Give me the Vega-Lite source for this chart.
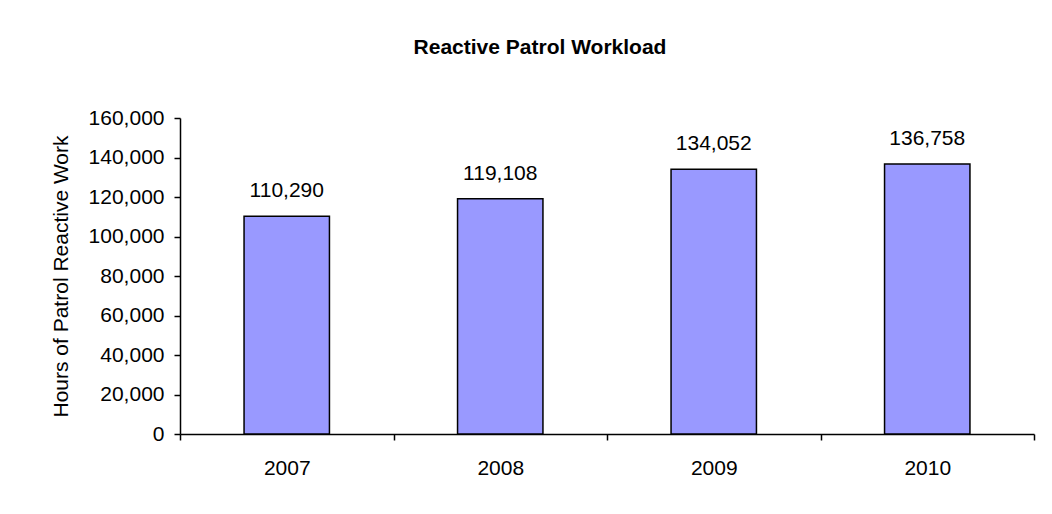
{
  "$schema": "https://vega.github.io/schema/vega-lite/v6.json",
  "width": 854,
  "height": 316,
  "autosize": "none",
  "padding": {"left": 180, "top": 118, "right": 18, "bottom": 80},
  "background": "white",
  "config": {
    "font": "Liberation Sans",
    "view": {"stroke": null},
    "axis": {"labelFont": "Liberation Sans", "titleFont": "Liberation Sans", "labelColor": "black", "titleColor": "black", "domainColor": "black", "tickColor": "black", "domainWidth": 1.5, "tickWidth": 1.5, "grid": false}
  },
  "title": {
    "text": "Reactive Patrol Workload",
    "font": "Liberation Sans",
    "fontSize": 21,
    "fontWeight": "bold",
    "color": "black",
    "anchor": "middle",
    "dx": -67,
    "offset": 49
  },
  "data": {
    "values": [
      {"year": "2007", "hours": 110290},
      {"year": "2008", "hours": 119108},
      {"year": "2009", "hours": 134052},
      {"year": "2010", "hours": 136758}
    ]
  },
  "encoding": {
    "x": {
      "field": "year",
      "type": "nominal",
      "scale": {"paddingInner": 0, "paddingOuter": 0},
      "axis": {"title": null, "labelAngle": 0, "labelFontSize": 21, "tickBand": "extent", "tickSize": 6, "labelPadding": 17}
    },
    "y": {
      "field": "hours",
      "type": "quantitative",
      "scale": {"domain": [0, 160000], "nice": false},
      "axis": {"title": "Hours of Patrol Reactive Work", "titleFontSize": 21, "titleFontWeight": "normal", "labelFontSize": 21, "format": ",.0f", "values": [0, 20000, 40000, 60000, 80000, 100000, 120000, 140000, 160000], "tickSize": 6, "labelPadding": 10, "titlePadding": 17}
    }
  },
  "layer": [
    {"mark": {"type": "bar", "width": {"band": 0.4}, "color": "#9999FF", "stroke": "black", "strokeWidth": 1.5}},
    {
      "mark": {"type": "text", "baseline": "alphabetic", "dy": -19, "fontSize": 21, "color": "black", "font": "Liberation Sans"},
      "encoding": {"text": {"field": "hours", "type": "quantitative", "format": ",.0f"}}
    }
  ]
}
